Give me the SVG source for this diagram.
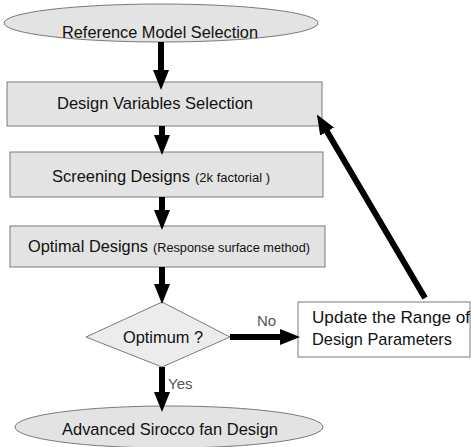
<svg xmlns="http://www.w3.org/2000/svg" width="471" height="447" viewBox="0 0 471 447">
<style>
.box{fill:#e3e3e3;stroke:#7a7a7a;stroke-width:1}
.dia{fill:#ececec;stroke:#7a7a7a;stroke-width:1}
.wbox{fill:#ffffff;stroke:#7a7a7a;stroke-width:1}
.t{font-family:"Liberation Sans",Arial,sans-serif;font-size:17px;fill:#111}
.s{font-family:"Liberation Sans",Arial,sans-serif;font-size:12px;fill:#111}
.lbl{font-family:"Liberation Sans",Arial,sans-serif;font-size:15px;fill:#555}
.c{stroke:#000;stroke-width:6;fill:none;marker-end:url(#ah)}
</style>
<defs>
<marker id="ah" markerUnits="userSpaceOnUse" markerWidth="20" markerHeight="16" refX="10" refY="8" orient="auto">
<path d="M0,0 L20,8 L0,16 z" fill="#000"/>
</marker>
</defs>
<g id="n_ref">
<ellipse class="box" cx="161" cy="23" rx="157" ry="19"/>
<text class="t" x="62" y="38" textLength="196" lengthAdjust="spacingAndGlyphs">Reference Model Selection</text>
</g>
<g id="n_dvs">
<rect class="box" x="7" y="82" width="315" height="44"/>
<text class="t" x="57" y="109" textLength="196" lengthAdjust="spacingAndGlyphs">Design Variables Selection</text>
</g>
<g id="n_scr">
<rect class="box" x="10" y="152" width="313" height="45"/>
<text x="52" y="182"><tspan class="t" textLength="138" lengthAdjust="spacingAndGlyphs">Screening Designs</tspan><tspan class="s" x="195" textLength="75" lengthAdjust="spacingAndGlyphs">(2k factorial )</tspan></text>
</g>
<g id="n_opt">
<rect class="box" x="10" y="226" width="315" height="41"/>
<text x="28" y="252"><tspan class="t" textLength="120" lengthAdjust="spacingAndGlyphs">Optimal Designs</tspan><tspan class="s" x="153" textLength="157" lengthAdjust="spacingAndGlyphs">(Response surface method)</tspan></text>
</g>
<g id="n_dec">
<polygon class="dia" points="162,302 230,337 162,367 86,337"/>
<text class="t" x="123" y="343" textLength="80" lengthAdjust="spacingAndGlyphs">Optimum ?</text>
</g>
<g id="n_upd">
<rect class="wbox" x="298" y="302" width="172" height="55"/>
<text class="t" x="312" y="323" textLength="158" lengthAdjust="spacingAndGlyphs">Update the Range of</text>
<text class="t" x="312" y="345" textLength="140" lengthAdjust="spacingAndGlyphs">Design Parameters</text>
</g>
<g id="n_adv">
<ellipse class="box" cx="169" cy="427" rx="154" ry="21"/>
<text class="t" x="62" y="435" textLength="216" lengthAdjust="spacingAndGlyphs">Advanced Sirocco fan Design</text>
</g>
<g id="connectors">
<line class="c" x1="161" y1="42" x2="161" y2="80"/>
<line class="c" x1="162" y1="126" x2="162" y2="145"/>
<line class="c" x1="162" y1="197" x2="162" y2="220"/>
<line class="c" x1="162" y1="267" x2="162" y2="294"/>
<line class="c" x1="230" y1="337" x2="290" y2="337"/>
<line class="c" x1="162" y1="367" x2="162" y2="402"/>
<line class="c" x1="425" y1="298" x2="322" y2="123"/>
<text class="lbl" x="257" y="326">No</text>
<text class="lbl" x="168" y="389">Yes</text>
</g>
</svg>
